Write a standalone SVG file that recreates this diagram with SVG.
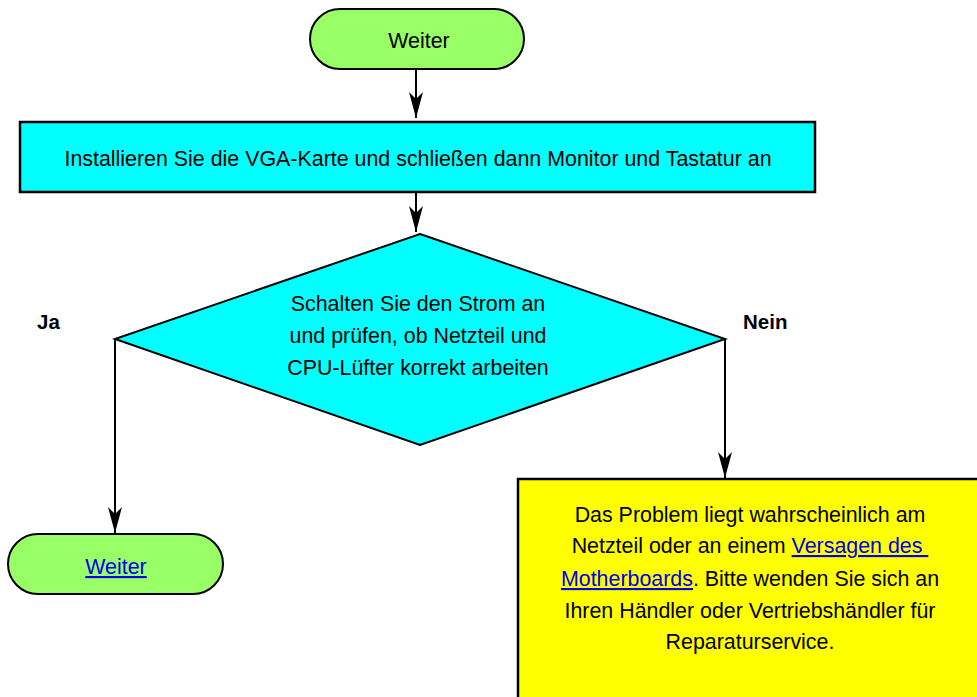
<svg xmlns="http://www.w3.org/2000/svg" width="977" height="697" viewBox="0 0 977 697">
<style>
text{font-family:"Liberation Sans",Arial,sans-serif;font-size:21.4px;fill:#000}
.c{text-anchor:middle}
.b{font-weight:bold;font-size:20.5px}
.lnk{fill:#0000ee;text-decoration:underline}
.term{fill:#99ff66;stroke:#000;stroke-width:2}
.proc{fill:#00ffff;stroke:#000;stroke-width:2.5}
.dec{fill:#00ffff;stroke:#000;stroke-width:2}
.note{fill:#ffff00;stroke:#000;stroke-width:2.5}
.edge{fill:none;stroke:#000;stroke-width:2;marker-end:url(#ah)}
</style>
<defs>
<marker id="ah" markerUnits="userSpaceOnUse" markerWidth="27" markerHeight="16" viewBox="-26 -8 27 16" refX="0" refY="0" orient="auto">
<path d="M0,0 L-26,-7 L-19,0 L-26,7 Z" fill="#000"/>
</marker>
</defs>
<rect width="977" height="697" fill="#fff"/>
<g id="connectors">
<path class="edge" d="M416,70 L416,118"/>
<path class="edge" d="M416,193 L416,232"/>
<path class="edge" d="M115,339 L115,533"/>
<path class="edge" d="M725,339 L725,478"/>
</g>
<g id="start">
<rect class="term" x="310" y="9" width="214" height="60" rx="30" ry="30"/>
<text class="c" x="419" y="48">Weiter</text>
</g>
<g id="install">
<rect class="proc" x="20" y="122" width="795" height="70"/>
<text class="c" x="418" y="166">Installieren Sie die VGA-Karte und schließen dann Monitor und Tastatur an</text>
</g>
<g id="check">
<polygon class="dec" points="420,234 725,339 420,445 115,339"/>
<text class="c" x="418" y="311">Schalten Sie den Strom an</text>
<text class="c" x="418" y="343">und prüfen, ob Netzteil und</text>
<text class="c" x="418" y="375">CPU-Lüfter korrekt arbeiten</text>
</g>
<g id="label-ja"><text class="b" x="37" y="329">Ja</text></g>
<g id="label-nein"><text class="b" x="743" y="329">Nein</text></g>
<g id="next">
<rect class="term" x="8" y="534" width="215" height="60" rx="30" ry="30"/>
<text class="c lnk" x="116" y="574">Weiter</text>
</g>
<g id="problem">
<rect class="note" x="518" y="479" width="470" height="230"/>
<text class="c" x="750" y="522">Das Problem liegt wahrscheinlich am</text>
<text class="c" x="750" y="553" xml:space="preserve">Netzteil oder an einem <tspan class="lnk">Versagen des </tspan></text>
<text class="c" x="750" y="586"><tspan class="lnk">Motherboards</tspan>. Bitte wenden Sie sich an</text>
<text class="c" x="750" y="618">Ihren Händler oder Vertriebshändler für</text>
<text class="c" x="750" y="649">Reparaturservice.</text>
</g>
</svg>
